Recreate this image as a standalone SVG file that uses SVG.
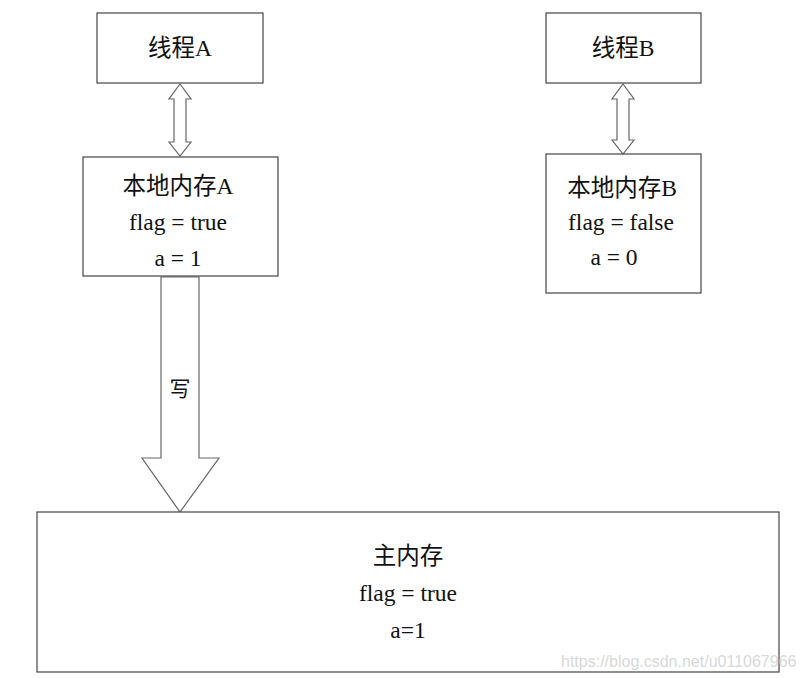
<svg xmlns="http://www.w3.org/2000/svg" width="805" height="679" viewBox="0 0 805 679">
<style>
.box{fill:#fff;stroke:#444;stroke-width:1.2}
.arr{fill:#fff;stroke:#666;stroke-width:1.2}
text{font-family:"Liberation Serif","Noto Sans CJK SC",serif;font-size:23.5px;fill:#111;text-anchor:middle}
.wm{font-family:"Liberation Sans",Arial,sans-serif;font-size:16px;fill:#d8d8d8;text-anchor:start}
</style>
<rect width="805" height="679" fill="#fff"/>
<g id="connectors">
<path class="arr" d="M180,84 L191,99 L186,99 L186,142 L191,142 L180,156 L169,142 L174,142 L174,99 L169,99 Z"/>
<path class="arr" d="M623,84 L634,99 L629,99 L629,140 L634,140 L623,154 L612,140 L617,140 L617,99 L612,99 Z"/>
<path class="arr" d="M161,277 L199,277 L199,458 L219,458 L180,512 L142,458 L161,458 Z"/>
<text x="180" y="396" style="font-size:21px">写</text>
</g>
<g id="threadA"><rect class="box" x="97" y="13" width="166" height="70"/><text x="180" y="56">线程A</text></g>
<g id="threadB"><rect class="box" x="546" y="13" width="155" height="70"/><text x="623" y="56">线程B</text></g>
<g id="localA"><rect class="box" x="83" y="157" width="195" height="119"/>
<text x="178" y="194">本地内存A</text><text x="178" y="230">flag = true</text><text x="178" y="266">a = 1</text></g>
<g id="localB"><rect class="box" x="546" y="154" width="155" height="139"/>
<text x="622" y="196">本地内存B</text><text x="621" y="230">flag = false</text><text x="614" y="265">a = 0</text></g>
<g id="mainMem"><rect class="box" x="37" y="512" width="742" height="160"/>
<text x="408" y="564">主内存</text><text x="408" y="601">flag = true</text><text x="408" y="638">a=1</text></g>
<text class="wm" x="561" y="667">https://blog.csdn.net/u011067966</text>
</svg>
